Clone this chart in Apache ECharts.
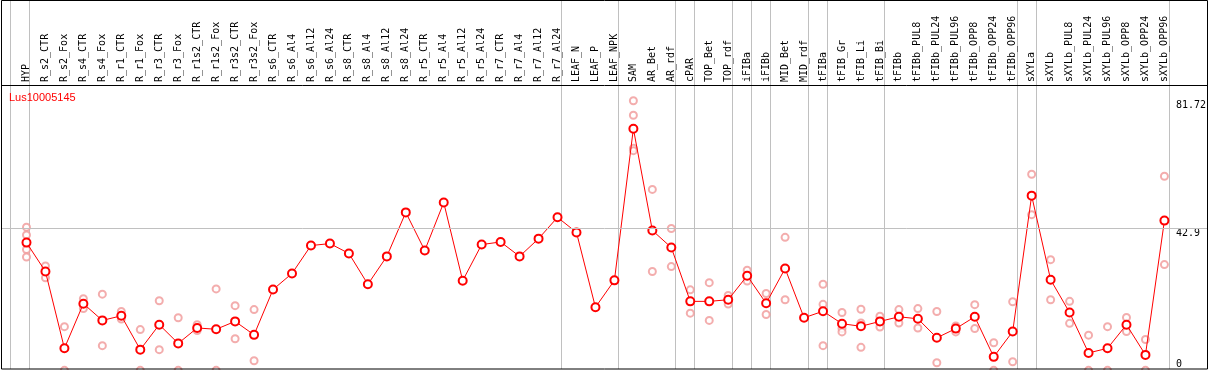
<!DOCTYPE html>
<html>
<head>
<meta charset="utf-8">
<script src="https://cdn.jsdelivr.net/npm/echarts@6/dist/echarts.min.js"></script>
<style>
html,body{margin:0;padding:0;background:#fff;}
#chart{width:1209px;height:370px;}
</style>
</head>
<body>
<div id="chart"></div>
<script>
var categories = ["HYP","R_s2_CTR","R_s2_Fox","R_s4_CTR","R_s4_Fox","R_r1_CTR","R_r1_Fox","R_r3_CTR","R_r3_Fox","R_r1s2_CTR","R_r1s2_Fox","R_r3s2_CTR","R_r3s2_Fox","R_s6_CTR","R_s6_Al4","R_s6_Al12","R_s6_Al24","R_s8_CTR","R_s8_Al4","R_s8_Al12","R_s8_Al24","R_r5_CTR","R_r5_Al4","R_r5_Al12","R_r5_Al24","R_r7_CTR","R_r7_Al4","R_r7_Al12","R_r7_Al24","LEAF_N","LEAF_P","LEAF_NPK","SAM","AR_Bet","AR_rdf","cPAR","TOP_Bet","TOP_rdf","iFIBa","iFIBb","MID_Bet","MID_rdf","tFIBa","tFIB_Gr","tFIB_Li","tFIB_Bi","tFIBb","tFIBb_PUL8","tFIBb_PUL24","tFIBb_PUL96","tFIBb_OPP8","tFIBb_OPP24","tFIBb_OPP96","sXYLa","sXYLb","sXYLb_PUL8","sXYLb_PUL24","sXYLb_PUL96","sXYLb_OPP8","sXYLb_OPP24","sXYLb_OPP96"];

var means = [38.5,29.7,6.3,19.9,14.8,16.2,5.9,13.5,7.8,12.5,12.1,14.5,10.4,24.2,29.1,37.6,38.2,35.2,25.8,34.3,47.7,36.1,50.7,26.9,37.9,38.7,34.3,39.7,46.2,41.6,18.8,27.0,73.2,42.2,37.0,20.6,20.6,21.1,28.4,20.0,30.6,15.6,17.6,13.8,13.0,14.5,15.9,15.3,9.5,12.3,15.9,3.7,11.4,52.8,27.2,17.2,4.9,6.3,13.5,4.3,45.2];

var reps = [
  [43.2,40.8,36.4,34.1],[31.4,27.8],[12.9,-0.4],[21.4,18.4],[22.8,7.1],[17.5,15.2],[12.0,-0.4],[20.8,5.9],[15.6,-0.4],[13.5,11.7],
  [24.4,-0.4],[19.3,9.2],[18.1,2.5],[],[],[],[],[],[],[],
  [],[],[],[],[],[],[],[],[],[],
  [],[],[81.72,77.3,67.2,66.5],[54.7,29.7],[42.8,31.2],[24.1,17.0],[26.3,14.8],[22.4,19.8],[30.1,26.8],[23.0,16.6],
  [40.1,21.1],[],[25.8,19.7,7.1],[17.2,12.3,11.3],[18.2,14.0,6.6],[16.1,12.8],[18.1,14.0],[18.4,12.5],[17.5,1.9],[13.1,11.3],
  [19.6,12.3],[8.0,-0.4],[20.5,2.2],[59.3,47.0],[33.3,21.1],[20.6,13.9],[10.3,-0.4],[12.9,-0.4],[15.7,11.4],[9.0,-0.4],
  [58.7,31.8]
];

var yTickLabels = [42.9, 81.72];
var yZeroLabel = [0];
var yGridLines = [42.9];
var groupStarts = [0,1,29,32,35,36,38,39,40,42,43,46,53,54];

var repPoints = [];
reps.forEach(function (list, i) {
  list.forEach(function (v) { repPoints.push([categories[i], v]); });
});

var YMAX = 86.5;
var mono = "'DejaVu Sans Mono', monospace";

var chart = echarts.init(document.getElementById('chart'), null, {renderer: 'canvas'});
chart.setOption({
  animation: false,
  backgroundColor: '#fff',
  title: {
    text: 'Lus10005145', left: 9, top: 92, padding: 0,
    textStyle: {color: '#ff0000', fontSize: 11, fontWeight: 'normal', fontFamily: "'Liberation Sans', Arial, sans-serif"}
  },
  grid: [
    {left: 17, width: 1159, top: 85, height: 284},
    {left: 10.5, width: 1159, top: 0, height: 369},
    {left: 1, width: 1207, top: 85, height: 284}
  ],
  xAxis: [
    {
      type: 'category', gridIndex: 0, position: 'top', data: categories, boundaryGap: true,
      axisLine: {show: false}, axisTick: {show: false}, splitLine: {show: false},
      axisLabel: {interval: 0, rotate: 90, margin: 3, fontFamily: mono, fontSize: 10, color: '#000'}
    },
    {
      type: 'category', gridIndex: 1, data: categories, boundaryGap: true,
      axisLine: {show: false}, axisTick: {show: false}, axisLabel: {show: false},
      splitLine: {
        show: true,
        interval: function (idx) { return groupStarts.indexOf(idx) >= 0; },
        lineStyle: {color: '#c0c0c0', width: 1}
      }
    },
    {type: 'value', gridIndex: 2, show: false, min: 0, max: 1}
  ],
  yAxis: [
    {
      type: 'value', gridIndex: 0, position: 'right', min: 0, max: YMAX,
      axisLine: {show: false}, axisTick: {show: false}, splitLine: {show: false},
      axisLabel: {customValues: yTickLabels, margin: 2, verticalAlign: 'top', fontFamily: mono, fontSize: 10, color: '#000',
        formatter: function (v) { return String(v); }}
    },
    {
      type: 'value', gridIndex: 0, position: 'right', min: 0, max: YMAX,
      axisLine: {show: false}, axisTick: {show: false}, splitLine: {show: false},
      axisLabel: {customValues: yZeroLabel, margin: 2, verticalAlign: 'bottom', fontFamily: mono, fontSize: 10, color: '#000',
        formatter: function (v) { return String(v); }}
    },
    {type: 'value', gridIndex: 1, show: false},
    {type: 'value', gridIndex: 2, min: 0, max: YMAX, show: false}
  ],
  graphic: [
    {type: 'rect', shape: {x: 1.5, y: 0.5, width: 1206, height: 368.5}, style: {fill: null, stroke: '#000', lineWidth: 1}, z: 100},
    {type: 'line', shape: {x1: 1, y1: 85.5, x2: 1208, y2: 85.5}, style: {stroke: '#000', lineWidth: 1}, z: 100}
  ],
  series: [
    {
      type: 'line', xAxisIndex: 2, yAxisIndex: 3, data: [], silent: true,
      markLine: {
        silent: true, symbol: ['none', 'none'], label: {show: false},
        lineStyle: {color: '#c0c0c0', width: 1, type: 'solid'},
        data: yGridLines.map(function (v) { return {yAxis: v}; })
      },
      z: 1
    },
    {
      type: 'scatter', xAxisIndex: 0, yAxisIndex: 0, data: repPoints, clip: false,
      symbol: 'emptyCircle', symbolSize: 7,
      itemStyle: {color: '#f09898', borderWidth: 1.2}, z: 2
    },
    {
      type: 'line', xAxisIndex: 0, yAxisIndex: 0, data: means, clip: false,
      symbol: 'emptyCircle', symbolSize: 8, showAllSymbol: true,
      lineStyle: {color: '#ff0000', width: 1},
      itemStyle: {color: '#ff0000', borderWidth: 2}, z: 3
    }
  ]
});
</script>
</body>
</html>
